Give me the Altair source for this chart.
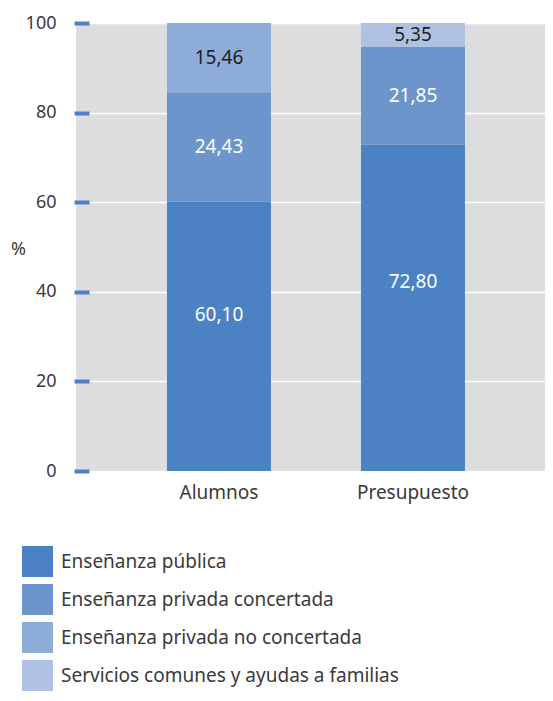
import altair as alt
import pandas as pd

grupos = ["Alumnos", "Presupuesto"]
categorias = [
    "Enseñanza pública",
    "Enseñanza privada concertada",
    "Enseñanza privada no concertada",
    "Servicios comunes y ayudas a familias",
]
colores = ["#4A82C4", "#6C95CB", "#8EACD8", "#AFC2E3"]
alumnos = [60.10, 24.43, 15.46, 0.0]
presupuesto = [72.80, 21.85, 0.0, 5.35]
y_ticks = [0, 20, 40, 60, 80, 100]

rows = []
for g, vals in zip(grupos, [alumnos, presupuesto]):
    for i, (c, v) in enumerate(zip(categorias, vals)):
        rows.append({"grupo": g, "cat": c, "valor": v, "orden": i})
df = pd.DataFrame(rows)

FONT = "Noto Sans"
TXT = "#3A3A3A"

base = (
    alt.Chart(df)
    .transform_filter("datum.valor > 0")
    .transform_stack(stack="valor", groupby=["grupo"], sort=[alt.SortField("orden")], as_=["y0", "y1"])
    .transform_calculate(
        mid="datum.y0 + (datum.y1 - datum.y0) * (datum.orden == 0 ? 0.58 : 0.5)",
        label="replace(format(datum.valor, '.2f'), '.', ',')",
    )
)

x_enc = alt.X(
    "grupo:N",
    sort=grupos,
    title=None,
    scale=alt.Scale(paddingInner=0.464, paddingOuter=0.4407, align=0.532),
    axis=alt.Axis(
        labelAngle=0, ticks=False, domain=False, labelFont=FONT, labelFontSize=19,
        labelColor=TXT, labelPadding=12, grid=False,
    ),
)

bars = base.mark_bar().encode(
    x=x_enc,
    y=alt.Y(
        "y0:Q",
        scale=alt.Scale(domain=[0, 100], nice=False),
        title="%",
        axis=alt.Axis(
            values=y_ticks, grid=True, gridColor="#FFFFFF", gridWidth=1.5,
            domain=False, tickColor="#4A82C4", tickSize=15, tickWidth=4,
            offset=-13, labelPadding=18, labelFont=FONT, labelFontSize=18,
            labelColor=TXT, titleAngle=0, titleFont=FONT, titleFontSize=18,
            titleFontWeight="normal", titleColor=TXT, titleX=-71, titleY=226,
            titleAlign="center", titleBaseline="middle",
        ),
    ),
    y2="y1:Q",
    color=alt.Color(
        "cat:N",
        scale=alt.Scale(domain=categorias, range=colores),
        legend=alt.Legend(
            title=None, orient="none", legendX=-54, legendY=523, direction="vertical",
            symbolType="square", symbolSize=961, symbolStrokeWidth=0, symbolOpacity=1,
            labelFont=FONT, labelFontSize=19, labelColor=TXT, labelOffset=8,
            rowPadding=7, labelLimit=500,
        ),
    ),
    order=alt.Order("orden:Q"),
)

text_color = alt.condition("datum.orden < 2", alt.value("#FFFFFF"), alt.value("#231F20"))

labels = base.mark_text(font=FONT, fontSize=19, baseline="middle").encode(
    x=alt.X("grupo:N", sort=grupos),
    y=alt.Y("mid:Q"),
    text="label:N",
    color=text_color,
)

chart = (
    alt.layer(bars, labels)
    .properties(
        width=469, height=448, background="#FFFFFF",
        autosize=alt.AutoSizeParams(type="none"),
        padding={"left": 68, "top": 15, "right": 0, "bottom": 221},
    )
    .configure_view(fill="#DCDDDF", strokeWidth=0)
)

chart.save("out.html", embed_options={"renderer": "svg", "actions": False})
